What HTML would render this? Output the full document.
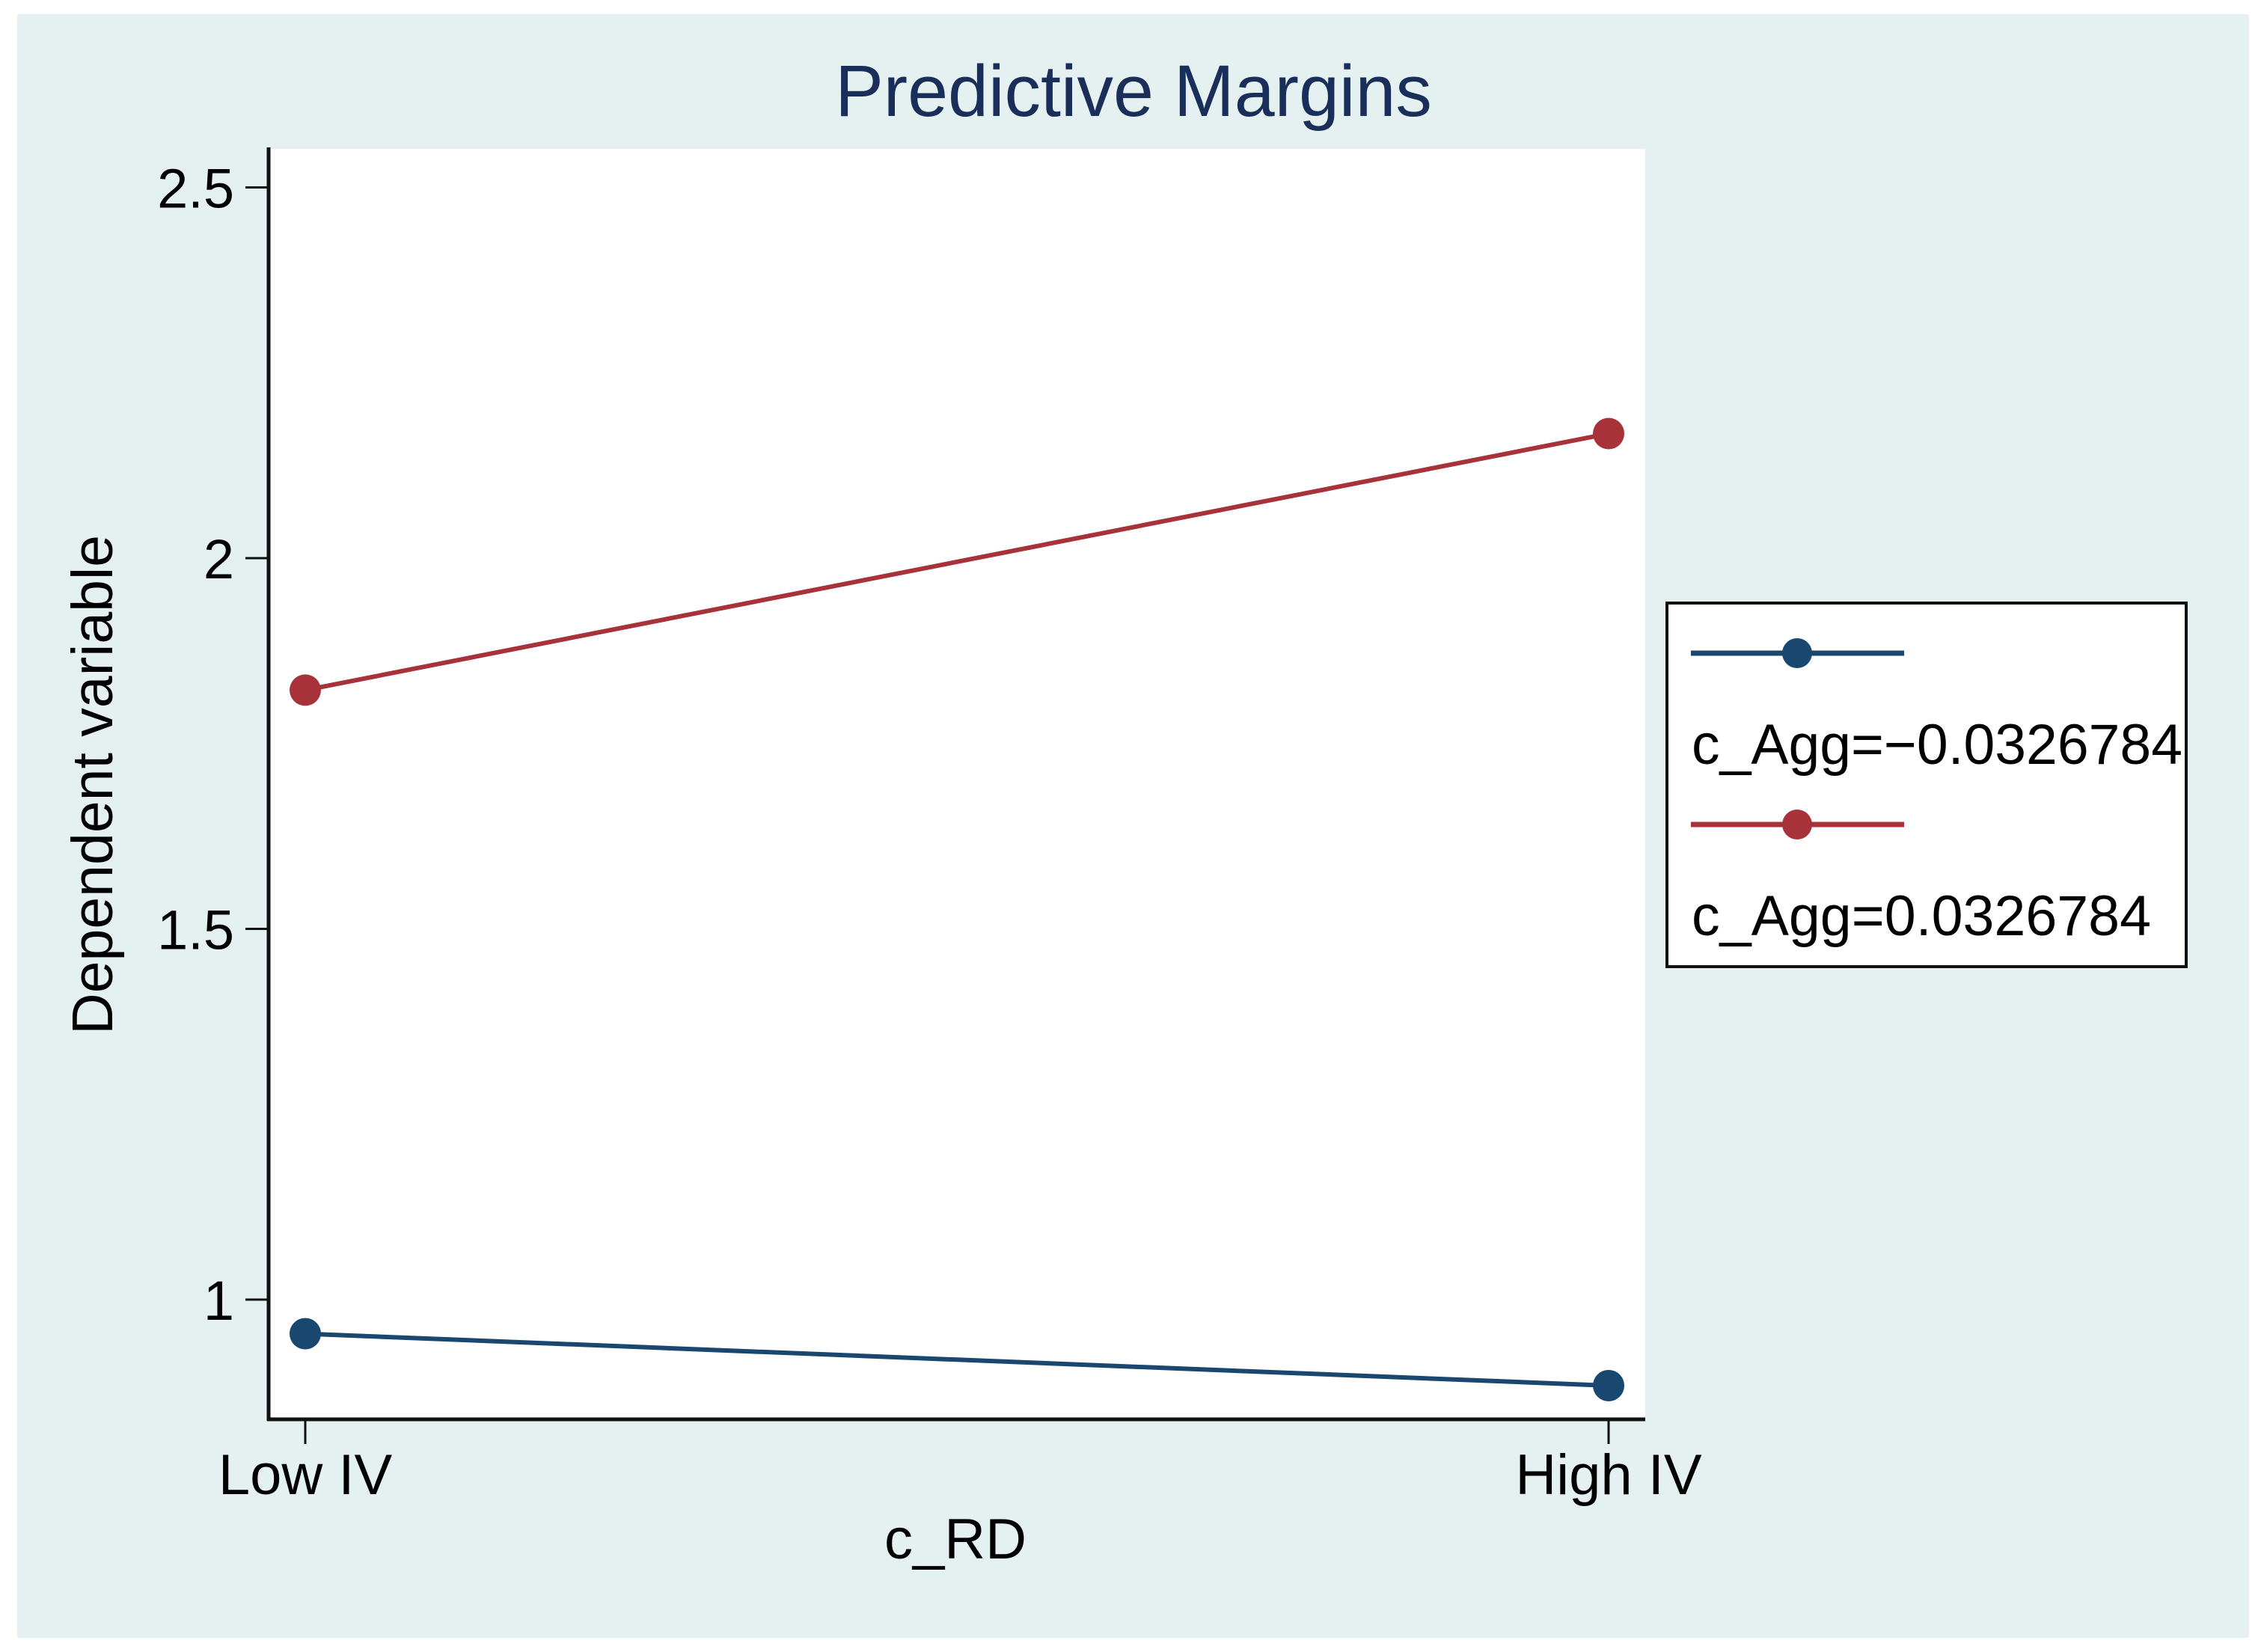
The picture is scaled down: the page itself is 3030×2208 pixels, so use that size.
<!DOCTYPE html>
<html><head><meta charset="utf-8"><style>
html,body{margin:0;padding:0;background:#fff}
svg{display:block}
text{font-family:"Liberation Sans",Arial,sans-serif}
</style></head><body>
<svg id="chart" width="3030" height="2208" viewBox="0 0 3030 2208" xmlns="http://www.w3.org/2000/svg">
<rect x="23" y="19" width="2983" height="2170" fill="#e5f0f0"/>
<text x="1515" y="155" font-size="97" fill="#1a2e5a" text-anchor="middle">Predictive Margins</text>
<rect x="359" y="199" width="1840" height="1698" fill="#fff"/>
<g id="yticks"></g>
<g id="xticks"></g>
<line x1="359" y1="197" x2="359" y2="1899" stroke="#111" stroke-width="5"/>
<line x1="357" y1="1897" x2="2199" y2="1897" stroke="#111" stroke-width="5"/>
<text transform="translate(150,1049) rotate(-90)" font-size="77" text-anchor="middle" fill="#000">Dependent variable</text>
<text x="1277" y="2083" font-size="76" text-anchor="middle" fill="#000">c_RD</text>
<g id="series"></g>
<g>
<rect x="2228" y="806" width="694" height="486" fill="#fff" stroke="#111" stroke-width="4"/>
<line x1="2260" y1="873" x2="2545" y2="873" stroke="#1a476f" stroke-width="7"/>
<circle cx="2402" cy="873" r="20" fill="#1a476f"/>
<text x="2261" y="1021" font-size="76" textLength="656" lengthAdjust="spacingAndGlyphs" fill="#000">c_Agg=−0.0326784</text>
<line x1="2260" y1="1102" x2="2545" y2="1102" stroke="#a8323a" stroke-width="7"/>
<circle cx="2402" cy="1102" r="20" fill="#a8323a"/>
<text x="2261" y="1250" font-size="76" textLength="614" lengthAdjust="spacingAndGlyphs" fill="#000">c_Agg=0.0326784</text>
</g>
</svg>
<script>
const categories = ["Low IV", "High IV"];
const seriesLow = [0.954, 0.884];
const seriesHigh = [1.822, 2.168];
const yTickValues = [1, 1.5, 2, 2.5];
const yTickLabels = ["1", "1.5", "2", "2.5"];

const NS = "http://www.w3.org/2000/svg";
const xPos = i => 408 + i * (2150 - 408) / (categories.length - 1);
const yPos = v => 746 - (v - 2) * 991;

function mk(tag, attrs, parent) {
  const e = document.createElementNS(NS, tag);
  for (const k in attrs) e.setAttribute(k, attrs[k]);
  parent.appendChild(e);
  return e;
}

const yg = document.getElementById("yticks");
yTickValues.forEach((v, i) => {
  const y = yPos(v);
  const t = mk("line", {x1: 328, y1: y, x2: 359, y2: y, stroke: "#111", "stroke-width": 3}, yg);
  
  
  const l = mk("text", {x: 313, y: y + 27, "font-size": 74, "text-anchor": "end", fill: "#000"}, yg);
  l.textContent = yTickLabels[i];
  
  
});

const xg = document.getElementById("xticks");
categories.forEach((c, i) => {
  const x = xPos(i);
  const t = mk("line", {x1: x, y1: 1897, x2: x, y2: 1930, stroke: "#111", "stroke-width": 3}, xg);
  
  
  const l = mk("text", {x: x, y: 1997, "font-size": 76, "text-anchor": "middle", fill: "#000"}, xg);
  l.textContent = c;
  
  
});

const sg = document.getElementById("series");
[[seriesHigh, "#a8323a", "high"], [seriesLow, "#1a476f", "low"]].forEach(([vals, col, nm]) => {
  const pts = vals.map((v, i) => xPos(i) + "," + yPos(v)).join(" ");
  const pl = mk("polyline", {points: pts, fill: "none", stroke: col, "stroke-width": 6}, sg);
  
  
  vals.forEach((v, i) => {
    const c = mk("circle", {cx: xPos(i), cy: yPos(v), r: 21, fill: col}, sg);
    
    
  });
});
</script>
</body></html>
